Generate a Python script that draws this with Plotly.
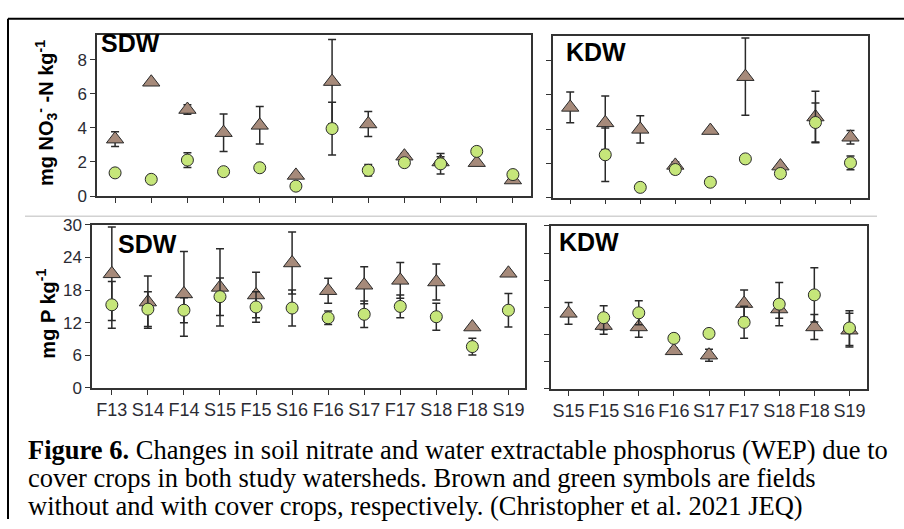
import plotly.graph_objects as go

W, H = 904, 529

sdw_cats = ["F13", "S14", "F14", "S15", "F15", "S16", "F16", "S17", "F17", "S18", "F18", "S19"]
kdw_cats = ["S15", "F15", "S16", "F16", "S17", "F17", "S18", "F18", "S19"]

# Nitrate (mg NO3- -N / kg)
sdw_no3_nocc = [3.34, 6.68, 5.08, 3.72, 4.15, 1.21, 6.72, 4.23, 2.34, 2.0, 1.96, 0.94]
sdw_no3_nocc_err = [0.43, 0.0, 0.28, 1.1, 1.1, 0.0, 2.47, 0.73, 0.15, 0.3, 0.1, 0.05]
sdw_no3_cc = [1.36, 0.98, 2.11, 1.43, 1.66, 0.58, 3.96, 1.51, 1.96, 1.89, 2.62, 1.26]
sdw_no3_cc_err = [0.1, 0.0, 0.43, 0.15, 0.2, 0.0, 1.55, 0.34, 0.15, 0.6, 0.1, 0.1]

kdw_no3_nocc = [5.26, 4.36, 3.98, 1.88, 3.91, 7.05, 1.84, 4.7, 3.52]
kdw_no3_nocc_err = [0.9, 1.56, 0.8, 0.2, 0.0, 2.25, 0.1, 1.5, 0.4]
kdw_no3_cc = [None, 2.5, 0.6, 1.64, 0.9, 2.26, 1.41, 4.38, 2.03]
kdw_no3_cc_err = [0.0, 1.56, 0.0, 0.25, 0.0, 0.0, 0.0, 1.13, 0.4]

# WEP (mg P / kg)
sdw_p_nocc = [21.0, 15.8, 17.3, 18.5, 17.1, 23.0, 17.9, 18.9, 19.8, 19.5, 11.2, 21.1]
sdw_p_nocc_err = [8.6, 4.8, 7.8, 7.1, 4.2, 5.7, 2.3, 3.4, 3.3, 3.3, 0.0, 0.0]
sdw_p_cc = [15.3, 14.5, 14.3, 16.8, 14.9, 14.7, 12.9, 13.55, 15.0, 13.1, 7.6, 14.3]
sdw_p_cc_err = [4.3, 3.2, 2.3, 3.45, 2.8, 3.3, 1.25, 2.45, 2.1, 2.5, 1.55, 3.1]

kdw_p_nocc = [13.9, 11.65, 11.4, 7.0, 6.2, 15.7, 14.7, 11.4, 10.8]
kdw_p_nocc_err = [2.0, 1.6, 1.9, 0.5, 1.1, 2.5, 1.7, 2.3, 3.1]
kdw_p_cc = [None, 13.1, 14.0, 9.3, 10.2, 12.25, 15.6, 17.3, 11.2]
kdw_p_cc_err = [0.0, 2.2, 2.2, 0.6, 0.4, 2.95, 4.0, 5.0, 3.2]

TRI_FILL = "#a68a7a"
CIR_FILL = "#c6e67a"
EDGE = "#2a2a2a"


def px_x(p):
    return p / W


def px_y(p):
    return 1 - p / H


fig = go.Figure()

panels = [
    ("", sdw_cats, sdw_no3_nocc, sdw_no3_nocc_err, sdw_no3_cc, sdw_no3_cc_err),
    ("2", kdw_cats, kdw_no3_nocc, kdw_no3_nocc_err, kdw_no3_cc, kdw_no3_cc_err),
    ("3", sdw_cats, sdw_p_nocc, sdw_p_nocc_err, sdw_p_cc, sdw_p_cc_err),
    ("4", kdw_cats, kdw_p_nocc, kdw_p_nocc_err, kdw_p_cc, kdw_p_cc_err),
]

for suf, cats, nocc, nocc_err, cc, cc_err in panels:
    xa = "x" + suf
    ya = "y" + suf
    fig.add_trace(go.Scatter(
        x=cats, y=nocc, mode="markers", xaxis=xa, yaxis=ya, showlegend=False,
        marker=dict(symbol="triangle-up", size=15, color=TRI_FILL,
                    line=dict(color=EDGE, width=1)),
        error_y=dict(type="data", array=nocc_err, visible=True, color=EDGE,
                     thickness=1.5, width=4),
    ))
    fig.add_trace(go.Scatter(
        x=cats, y=cc, mode="markers", xaxis=xa, yaxis=ya, showlegend=False,
        marker=dict(symbol="circle", size=12, color=CIR_FILL,
                    line=dict(color=EDGE, width=1)),
        error_y=dict(type="data", array=cc_err, visible=True, color=EDGE,
                     thickness=1.5, width=4),
    ))

axis_common = dict(showline=True, linecolor="#333333", linewidth=1.5, mirror=True,
                   ticks="outside", ticklen=5, tickcolor="#333333", tickwidth=1.2,
                   showgrid=False, zeroline=False,
                   tickfont=dict(family="Liberation Sans, Arial", size=17, color="#2b2b33"))
xfont = dict(family="Liberation Sans, Arial", size=18, color="#2b2b33")

fig.update_layout(
    width=W, height=H, margin=dict(l=0, r=0, t=0, b=0),
    paper_bgcolor="white", plot_bgcolor="white",
    xaxis=dict(domain=[px_x(97), px_x(531)], anchor="y", type="category",
               range=[-0.5, 11.5], showticklabels=False, **axis_common),
    yaxis=dict(domain=[px_y(194), px_y(26.7)], anchor="x", range=[0, 9.47],
               tickvals=[0, 2, 4, 6, 8], **axis_common),
    xaxis2=dict(domain=[px_x(552.7), px_x(868)], anchor="y2", type="category",
                range=[-0.5, 8.5], showticklabels=False, **axis_common),
    yaxis2=dict(domain=[px_y(195.7), px_y(28)], anchor="x2", range=[0, 9.42],
                tickvals=[0, 2, 4, 6, 8], showticklabels=False, **axis_common),
    xaxis3=dict(domain=[px_x(92), px_x(525)], anchor="y3", type="category",
                range=[-0.55, 11.46], **axis_common),
    yaxis3=dict(domain=[px_y(393), px_y(224)], anchor="x3", range=[0, 30],
                tickvals=[0, 6, 12, 18, 24, 30], **axis_common),
    xaxis4=dict(domain=[px_x(551), px_x(867)], anchor="y4", type="category",
                range=[-0.5, 8.5], **axis_common),
    yaxis4=dict(domain=[px_y(394), px_y(225)], anchor="x4", range=[0, 30],
                tickvals=[0, 5, 10, 15, 20, 25, 30], showticklabels=False, **axis_common),
)
fig.update_layout(xaxis3_tickfont=xfont, xaxis4_tickfont=xfont)

# Frame and separator
fig.add_shape(type="line", xref="paper", yref="paper", x0=px_x(8), x1=1.0,
              y0=px_y(10), y1=px_y(10), line=dict(color="black", width=2))
fig.add_shape(type="line", xref="paper", yref="paper", x0=px_x(8), x1=px_x(8),
              y0=0, y1=px_y(10), line=dict(color="black", width=2))
fig.add_shape(type="line", xref="paper", yref="paper", x0=px_x(25), x1=px_x(877),
              y0=px_y(215), y1=px_y(215), line=dict(color="#d2d2d2", width=1.5))

lab_font = dict(family="Liberation Sans, Arial", size=25, color="black")
for txt, x, y in [("SDW", 99, 35), ("KDW", 564, 45), ("SDW", 116, 244), ("KDW", 557, 242)]:
    fig.add_annotation(text="<b>%s</b>" % txt, xref="paper", yref="paper",
                       x=px_x(x), y=px_y(y), xanchor="left", yanchor="middle",
                       showarrow=False, font=lab_font)

title_font = dict(family="Liberation Sans, Arial", size=20, color="black")
fig.add_annotation(text="<b>mg NO<sub>3</sub><sup>-</sup> -N kg<sup>-1</sup></b>",
                   xref="paper", yref="paper", x=px_x(46), y=px_y(108),
                   xanchor="center", yanchor="middle", textangle=-90,
                   showarrow=False, font=title_font)
fig.add_annotation(text="<b>mg P kg<sup>-1</sup></b>",
                   xref="paper", yref="paper", x=px_x(46), y=px_y(316),
                   xanchor="center", yanchor="middle", textangle=-90,
                   showarrow=False, font=title_font)

cap_font = dict(family="Liberation Serif, Times New Roman", size=26.5, color="black")
caption = [
    "<b>Figure 6.</b> Changes in soil nitrate and water extractable phosphorus (WEP) due to",
    "cover crops in both study watersheds. Brown and green symbols are fields",
    "without and with cover crops, respectively. (Christopher et al. 2021 JEQ)",
]
for i, line in enumerate(caption):
    fig.add_annotation(text=line, xref="paper", yref="paper", x=px_x(26),
                       y=px_y(457 + 29.5 * i), xanchor="left", yanchor="middle",
                       showarrow=False, font=cap_font, align="left")

fig.write_html("out.html")
